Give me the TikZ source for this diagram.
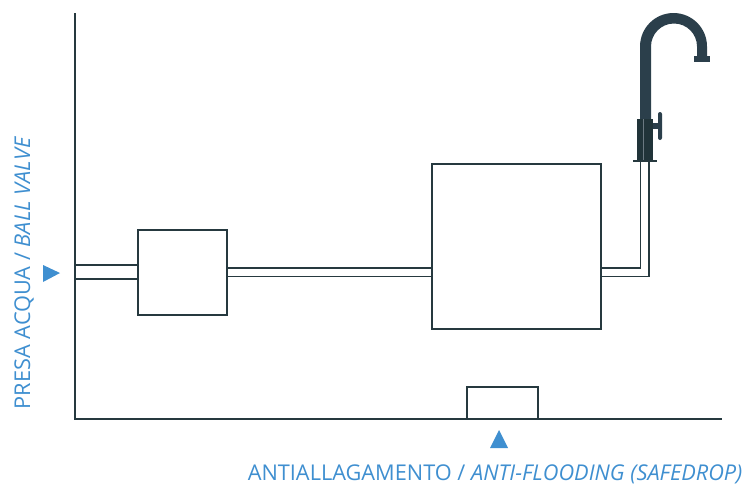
\documentclass[tikz,border=0pt]{standalone}
\usepackage{fontspec}
\setmainfont{Open Sans}
\definecolor{linec}{HTML}{26393F}
\definecolor{tapc}{HTML}{2B3F4B}
\definecolor{tapd}{HTML}{213439}
\definecolor{bluec}{HTML}{3F8FD0}
\tikzset{
  lbl/.style={text=bluec,inner sep=0pt,font=\fontsize{16.3}{18}\selectfont},
  axisl/.style={draw=linec,line width=1.7pt},
  boxn/.style={draw=linec,line width=1.4pt,fill=white,inner sep=0pt,anchor=north west},
  pipe/.style={draw=linec,line width=1.4pt},
  tri/.style={fill=bluec,draw=none}
}
\begin{document}
\begin{tikzpicture}[x=0.75pt,y=-0.75pt]
\useasboundingbox (0,0) rectangle (745,486);
% axes
\coordinate (axtop) at (75,13);
\coordinate (axorigin) at (75,419);
\coordinate (axend) at (722,419);
\draw[axisl] (axtop) -- (axorigin) -- (axend);
% boxes
\node[boxn,minimum width=66.75pt,minimum height=63.75pt] (filter) at (137.3,229.3) {};
\node[boxn,minimum width=126.75pt,minimum height=124pt] (tank) at (431.3,162.8) {};
\coordinate (sdl) at (467,419);
\coordinate (sdr) at (538,419);
\coordinate (sdtl) at (467,387);
\coordinate (sdtr) at (538,387);
\draw[pipe] (sdl) -- (sdtl) -- (sdtr) -- (sdr);
% pipes
\coordinate (a1) at (75,265); \coordinate (a2) at (75,279);
\draw[pipe] (a1) -- (a1-|filter.west);
\draw[pipe] (a2) -- (a2-|filter.west);
\coordinate (b1) at (227,268); \coordinate (b2) at (227,276.5);
\draw[pipe] (b1-|filter.east) -- (b1-|tank.west);
\draw[pipe] (b2-|filter.east) -- (b2-|tank.west);
% tap spout
\fill[tapc] (640,120) -- (640,46.5) arc[start angle=180,end angle=360,radius=33.5] -- (707,57) -- (697,57) -- (697,46.5) arc[start angle=360,end angle=180,radius=23] -- (651,120) -- cycle;
\fill[tapc] (694,56) rectangle (710,62);
% handle
\fill[tapc] (652,123) rectangle (660,129.3);
\fill[tapc,rounded corners=1.5pt] (658,112) rectangle (662,140);
% tap body
\fill[tapd] (637,119) rectangle (653,160);
\draw[tapc!70!white,line width=0.4pt] (643,119) -- (643,160);
\node[fill=linec,minimum width=18pt,minimum height=1.8pt,inner sep=0pt] (plate) at (645,161) {};
% pipes to tap
\coordinate (c1) at (640.5,268); \coordinate (c2) at (649,276.5);
\draw[pipe] (c1-|tank.east) -- (c1) -- (c1|-plate.south);
\draw[pipe] (c2-|tank.east) -- (c2) -- (c2|-plate.south);
% markers
\fill[tri] (43,265) -- (60,273) -- (43,282) -- cycle;
\fill[tri] (490,448) -- (499,430) -- (508,448) -- cycle;
% labels
\node[lbl,rotate=90,anchor=base west] (valve) at (30,409.5) {PRESA ACQUA / \textit{BALL VALVE}};
\node[lbl,anchor=base west] (flood) at (247.5,480.5) {ANTIALLAGAMENTO / \textit{ANTI-FLOODING (SAFEDROP)}};
\end{tikzpicture}
\end{document}
